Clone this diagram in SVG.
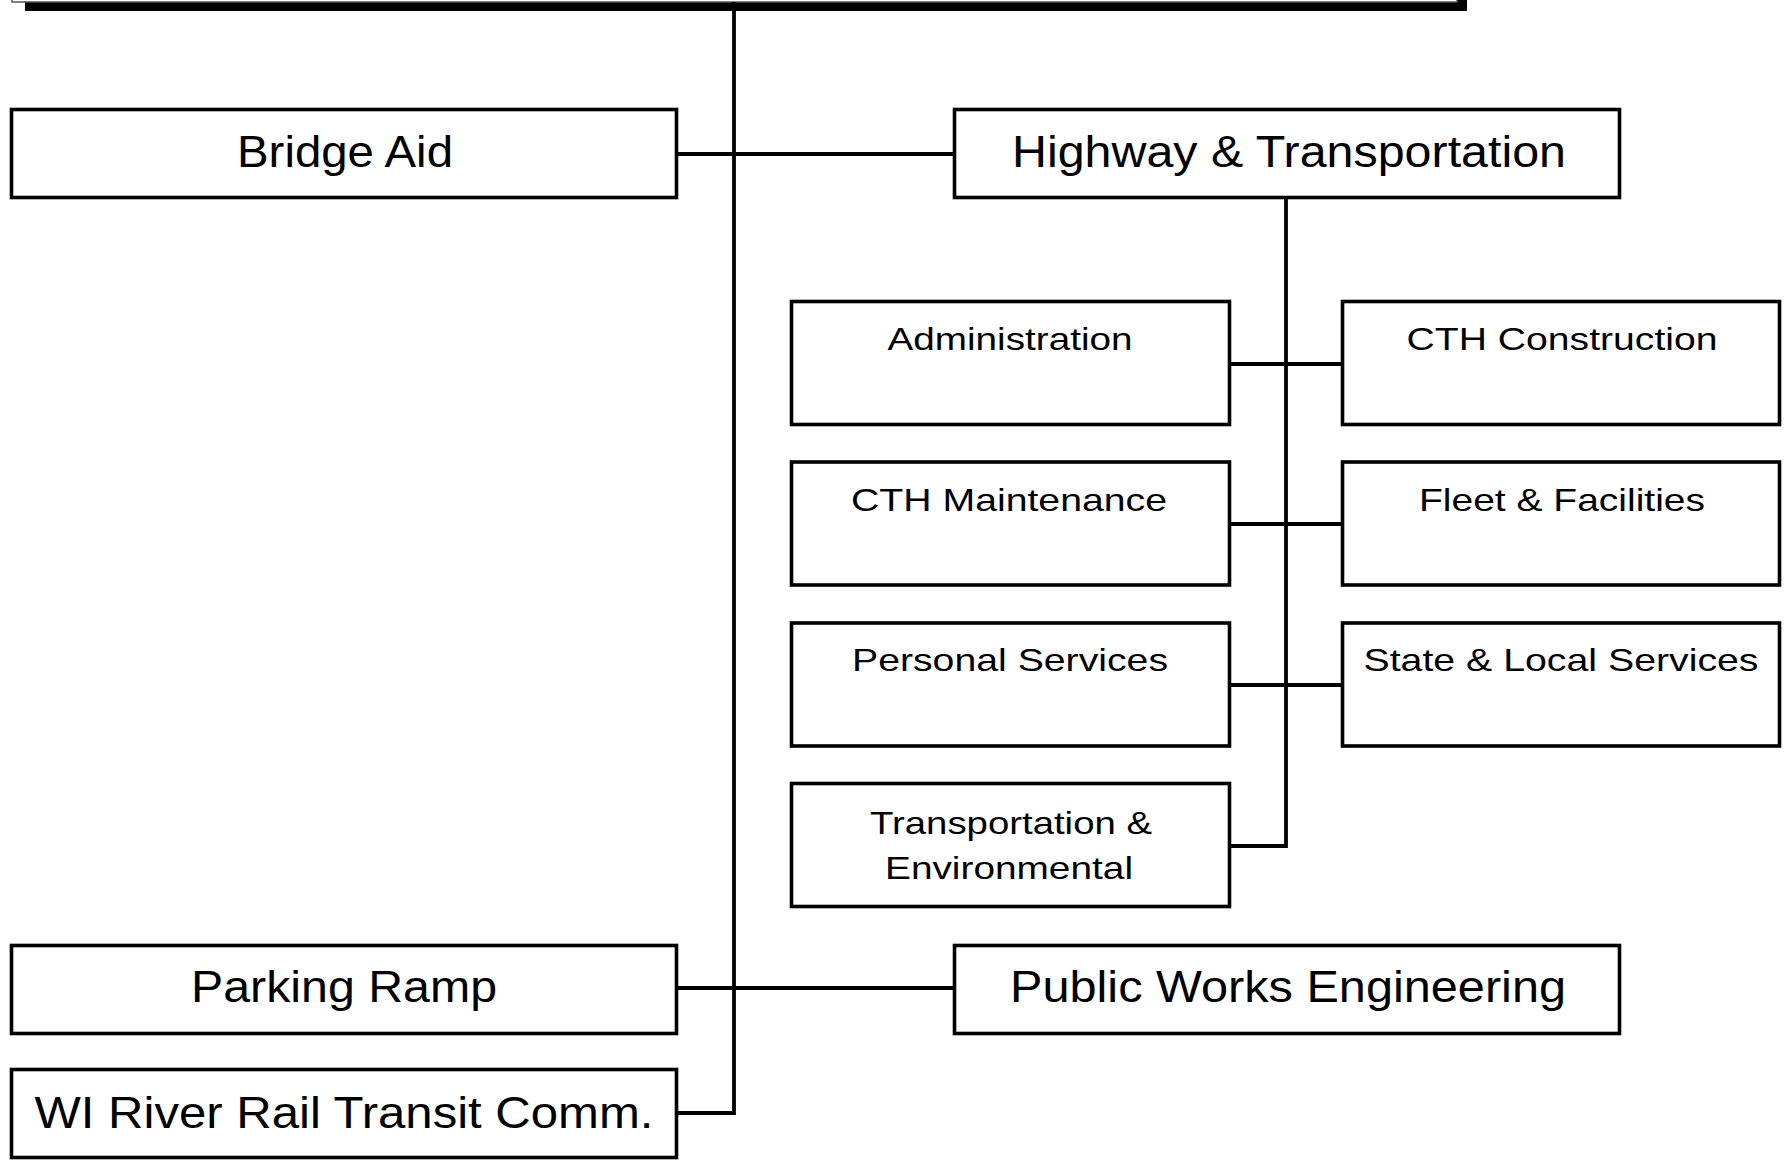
<svg xmlns="http://www.w3.org/2000/svg" width="1787" height="1160" viewBox="0 0 1787 1160">
<style>
.box{fill:#fff;stroke:#000;stroke-width:3.6}
.ln{fill:none;stroke:#000;stroke-width:3.8}
.big{font-family:"Liberation Sans",Arial,sans-serif;font-size:45px;fill:#000;text-anchor:middle}
.sm{font-family:"Liberation Sans",Arial,sans-serif;font-size:32px;fill:#000;text-anchor:middle}
</style>
<rect width="1787" height="1160" fill="#fff"/>
<g id="top">
<rect x="25" y="-100" width="1442" height="111" fill="#000"/>
<rect x="12" y="-110" width="1445" height="112" fill="#fff" stroke="#555" stroke-width="1.5"/>
</g>
<g id="connectors">
<polyline class="ln" points="734,2 734,1113 678,1113"/>
<line class="ln" x1="678" y1="154" x2="953" y2="154"/>
<line class="ln" x1="678" y1="988" x2="953" y2="988"/>
<polyline class="ln" points="1286,199 1286,846 1231,846"/>
<line class="ln" x1="1231" y1="364" x2="1341" y2="364"/>
<line class="ln" x1="1231" y1="524" x2="1341" y2="524"/>
<line class="ln" x1="1231" y1="685" x2="1341" y2="685"/>
</g>
<g id="bridge-aid"><rect class="box" x="11.5" y="109.5" width="665" height="88"/><text class="big" x="345" y="167" textLength="216" lengthAdjust="spacingAndGlyphs">Bridge Aid</text></g>
<g id="highway"><rect class="box" x="954.5" y="109.5" width="665" height="88"/><text class="big" x="1289" y="167" textLength="554" lengthAdjust="spacingAndGlyphs">Highway &amp; Transportation</text></g>
<g id="administration"><rect class="box" x="791.5" y="301.5" width="438" height="123"/><text class="sm" x="1010" y="350" textLength="245" lengthAdjust="spacingAndGlyphs">Administration</text></g>
<g id="cth-construction"><rect class="box" x="1342.5" y="301.5" width="437" height="123"/><text class="sm" x="1562" y="350" textLength="311" lengthAdjust="spacingAndGlyphs">CTH Construction</text></g>
<g id="cth-maintenance"><rect class="box" x="791.5" y="462" width="438" height="123"/><text class="sm" x="1009" y="511" textLength="316" lengthAdjust="spacingAndGlyphs">CTH Maintenance</text></g>
<g id="fleet"><rect class="box" x="1342.5" y="462" width="437" height="123"/><text class="sm" x="1562" y="511" textLength="286" lengthAdjust="spacingAndGlyphs">Fleet &amp; Facilities</text></g>
<g id="personal"><rect class="box" x="791.5" y="623" width="438" height="123"/><text class="sm" x="1010" y="671" textLength="316" lengthAdjust="spacingAndGlyphs">Personal Services</text></g>
<g id="state-local"><rect class="box" x="1342.5" y="623" width="437" height="123"/><text class="sm" x="1561" y="671" textLength="395" lengthAdjust="spacingAndGlyphs">State &amp; Local Services</text></g>
<g id="transp-env"><rect class="box" x="791.5" y="783.5" width="438" height="123"/><text class="sm" x="1011" y="834" textLength="282" lengthAdjust="spacingAndGlyphs">Transportation &amp;</text><text class="sm" x="1009" y="879" textLength="248" lengthAdjust="spacingAndGlyphs">Environmental</text></g>
<g id="parking"><rect class="box" x="11.5" y="945.5" width="665" height="88"/><text class="big" x="344" y="1002" textLength="306" lengthAdjust="spacingAndGlyphs">Parking Ramp</text></g>
<g id="public-works"><rect class="box" x="954.5" y="945.5" width="665" height="88"/><text class="big" x="1288" y="1002" textLength="556" lengthAdjust="spacingAndGlyphs">Public Works Engineering</text></g>
<g id="wi-river"><rect class="box" x="11.5" y="1069.5" width="665" height="88"/><text class="big" x="344" y="1128" textLength="619" lengthAdjust="spacingAndGlyphs">WI River Rail Transit Comm.</text></g>
</svg>
